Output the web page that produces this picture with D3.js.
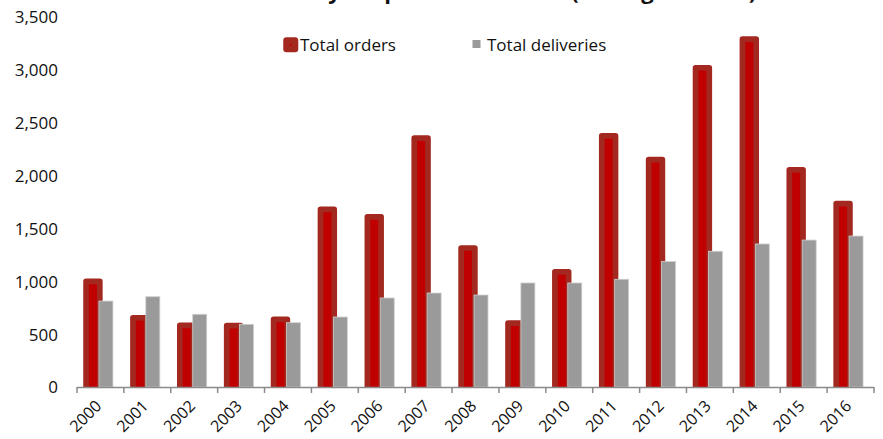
<!DOCTYPE html>
<html>
<head>
<meta charset="utf-8">
<script src="https://cdn.jsdelivr.net/npm/d3@7"></script>
<style>
  html, body { margin: 0; padding: 0; background: #fff; }
  svg { display: block; }
  text { font-family: "Open Sans", "DejaVu Sans", sans-serif; fill: #111; }
</style>
</head>
<body>
<svg id="chart" width="883" height="439"></svg>
<script>
const years = ["2000","2001","2002","2003","2004","2005","2006","2007","2008","2009","2010","2011","2012","2013","2014","2015","2016"];
const totalOrders = [1000, 655, 582, 580, 640, 1680, 1610, 2355, 1315, 605, 1090, 2375, 2150, 3020, 3290, 2055, 1735];
const totalDeliveries = [813, 854, 688, 593, 608, 662, 842, 889, 870, 984, 984, 1019, 1187, 1284, 1353, 1390, 1428];
const yTicks = [0, 500, 1000, 1500, 2000, 2500, 3000, 3500];
const seriesNames = ["Total orders", "Total deliveries"];
const titleText = "Industry output and demand (Boeing + Airbus)";

const svg = d3.select("#chart");
const plotLeft = 77, plotRight = 874, plotTop = 17, plotBottom = 387;

const x = d3.scaleBand().domain(years).range([plotLeft, plotRight]).padding(0);
const y = d3.scaleLinear().domain([0, 3500]).range([plotBottom, plotTop]);

// Title (cut off at top of the frame, as in the reference)
svg.append("text")
  .attr("x", 502).attr("y", -1)
  .attr("text-anchor", "middle")
  .style("font-size", "22px").style("font-weight", "bold")
  .text(titleText);

// Y axis labels (no axis line)
const yAxis = d3.axisLeft(y).tickValues(yTicks).tickFormat(d3.format(",")).tickSize(0).tickPadding(0);
const gy = svg.append("g").attr("transform", "translate(58,0)").call(yAxis);
gy.select(".domain").remove();
gy.selectAll("text").style("font-size", "17px").style("font-family", "'Open Sans', sans-serif").attr("fill", "#111").attr("dy", "0.35em");

// clip so the red stroke does not go below the baseline
svg.append("defs").append("clipPath").attr("id", "plotclip")
  .append("rect").attr("x", 0).attr("y", 0).attr("width", 883).attr("height", plotBottom);

const barW = 13.7, strokeW = 5.7;
const bars = svg.append("g").attr("clip-path", "url(#plotclip)");

// Orders bars
bars.selectAll("rect.ord").data(years).join("rect")
  .attr("class", "ord")
  .attr("x", d => x(d) + x.bandwidth() / 2 - 7.5 - barW / 2)
  .attr("y", (d, i) => y(totalOrders[i]))
  .attr("width", barW)
  .attr("height", (d, i) => y(0) - y(totalOrders[i]) + 4)
  .attr("fill", "#c00000")
  .attr("stroke", "#a3281f")
  .attr("stroke-width", strokeW)
  .attr("stroke-linejoin", "round");

// Deliveries bars
bars.selectAll("rect.del").data(years).join("rect")
  .attr("class", "del")
  .attr("x", d => x(d) + x.bandwidth() / 2 - 1.5)
  .attr("y", (d, i) => y(totalDeliveries[i]))
  .attr("width", 14)
  .attr("height", (d, i) => y(0) - y(totalDeliveries[i]))
  .attr("fill", "#9a9a9a")
  .attr("stroke", "#cfcfcf")
  .attr("stroke-width", 0.8);

// X axis line and boundary ticks
const gx = svg.append("g");
gx.append("line")
  .attr("x1", plotLeft).attr("x2", plotRight).attr("y1", plotBottom + 0.5).attr("y2", plotBottom + 0.5)
  .attr("stroke", "#8a8a8a").attr("stroke-width", 1.5);
const bounds = years.map(d => x(d)).concat([x.range()[1]]);
gx.selectAll("line.tk").data(bounds).join("line")
  .attr("class", "tk")
  .attr("x1", d => d).attr("x2", d => d)
  .attr("y1", plotBottom).attr("y2", plotBottom + 6)
  .attr("stroke", "#8a8a8a").attr("stroke-width", 1.5);

// X labels rotated
gx.selectAll("text.xl").data(years).join("text")
  .attr("class", "xl")
  .attr("text-anchor", "end")
  .attr("transform", d => `translate(${x(d) + x.bandwidth() / 2 + 2},${plotBottom + 20}) rotate(-45)`)
  .style("font-size", "16px")
  .text(d => d);

// Legend
const lg = svg.append("g");
lg.append("rect")
  .attr("x", 286.5).attr("y", 40.5).attr("width", 8.5).attr("height", 8.5)
  .attr("fill", "#c00000").attr("stroke", "#a3281f").attr("stroke-width", 6.5)
  .attr("stroke-linejoin", "round");
lg.append("text").attr("x", 300).attr("y", 51).style("font-size", "17px").text(seriesNames[0]);
lg.append("rect")
  .attr("x", 472.5).attr("y", 40).attr("width", 8).attr("height", 8)
  .attr("fill", "#9a9a9a");
lg.append("text").attr("x", 487).attr("y", 51).style("font-size", "17px").text(seriesNames[1]);
</script>
</body>
</html>
